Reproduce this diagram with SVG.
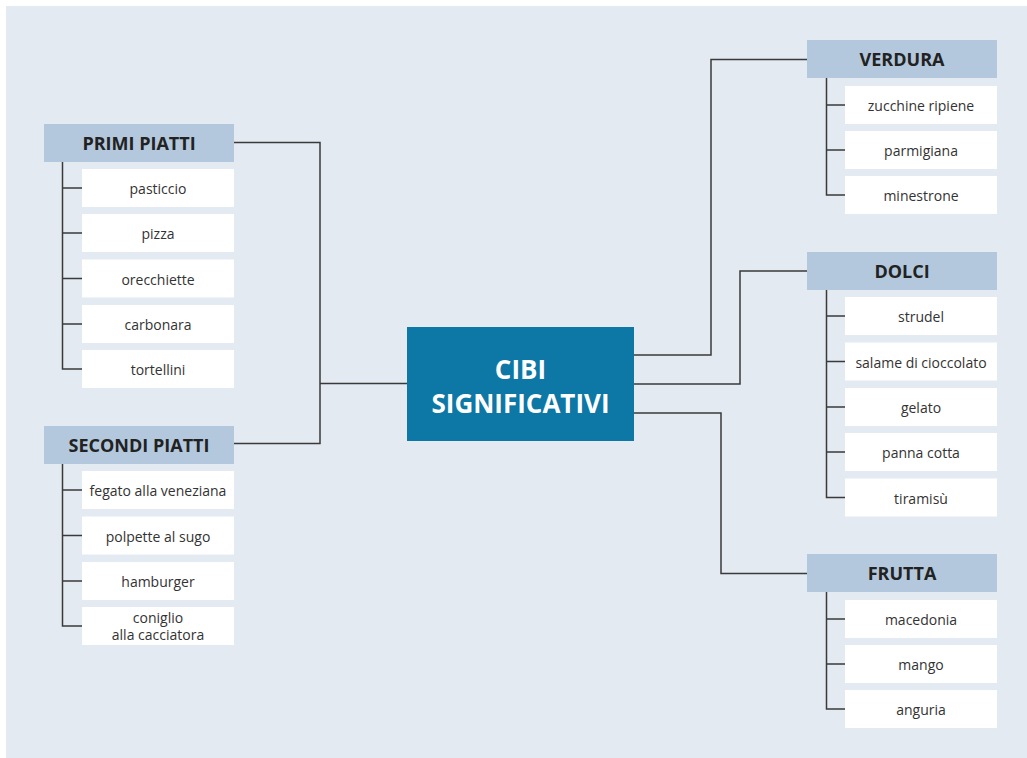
<svg xmlns="http://www.w3.org/2000/svg" width="1027" height="758" viewBox="0 0 1027 758">
<style>
.hdr{fill:#b3c8dc}
.itm{fill:#ffffff}
.ht{font-family:"Open Sans","Noto Sans","Liberation Sans",sans-serif;font-weight:700;font-size:18px;fill:#222;text-anchor:middle}
.it{font-family:"Open Sans","Noto Sans","Liberation Sans",sans-serif;font-size:14px;fill:#333;text-anchor:middle}
.ct{font-family:"Open Sans","Noto Sans","Liberation Sans",sans-serif;font-weight:700;font-size:26px;fill:#ffffff;text-anchor:middle}
.ln{fill:none;stroke:#3a3a3a;stroke-width:1.5}
</style>
<rect x="6" y="6" width="1021" height="752" fill="#e3eaf2"/>
<g id="connectors">
<path class="ln" d="M234,142.5 H320 V443.5 H234"/>
<path class="ln" d="M320,383.5 H407"/>
<path class="ln" d="M634,355 H711 V59.5 H807"/>
<path class="ln" d="M634,384 H740 V271 H807"/>
<path class="ln" d="M634,413 H721 V573.5 H807"/>
<path class="ln" d="M62.5,162 V369 H82 M62.5,188 H82 M62.5,233 H82 M62.5,278.5 H82 M62.5,324 H82"/>
<path class="ln" d="M62.5,464 V626 H82 M62.5,490 H82 M62.5,535.5 H82 M62.5,581 H82"/>
<path class="ln" d="M826.5,78 V195 H845 M826.5,105 H845 M826.5,150 H845"/>
<path class="ln" d="M826.5,290 V497.5 H845 M826.5,316 H845 M826.5,361.5 H845 M826.5,407 H845 M826.5,452 H845"/>
<path class="ln" d="M826.5,592 V709 H845 M826.5,619 H845 M826.5,664 H845"/>
</g>
<g id="center">
<rect x="407" y="327" width="227" height="114" fill="#0d77a5"/>
<text class="ct" x="520.5" y="379">CIBI</text>
<text class="ct" x="520.5" y="413">SIGNIFICATIVI</text>
</g>
<g id="primi">
<rect class="hdr" x="44" y="124" width="190" height="38"/>
<text class="ht" x="139" y="150">PRIMI PIATTI</text>
<rect class="itm" x="82" y="169" width="152" height="38"/><text class="it" x="158" y="194">pasticcio</text>
<rect class="itm" x="82" y="214" width="152" height="38"/><text class="it" x="158" y="239">pizza</text>
<rect class="itm" x="82" y="259.5" width="152" height="38"/><text class="it" x="158" y="284.5">orecchiette</text>
<rect class="itm" x="82" y="305" width="152" height="38"/><text class="it" x="158" y="330">carbonara</text>
<rect class="itm" x="82" y="350" width="152" height="38"/><text class="it" x="158" y="375">tortellini</text>
</g>
<g id="secondi">
<rect class="hdr" x="44" y="426" width="190" height="38"/>
<text class="ht" x="139" y="452">SECONDI PIATTI</text>
<rect class="itm" x="82" y="471" width="152" height="38"/><text class="it" x="158" y="496">fegato alla veneziana</text>
<rect class="itm" x="82" y="516.5" width="152" height="38"/><text class="it" x="158" y="541.5">polpette al sugo</text>
<rect class="itm" x="82" y="562" width="152" height="38"/><text class="it" x="158" y="587">hamburger</text>
<rect class="itm" x="82" y="607" width="152" height="38"/><text class="it" x="158" y="623">coniglio</text><text class="it" x="158" y="640">alla cacciatora</text>
</g>
<g id="verdura">
<rect class="hdr" x="807" y="40" width="190" height="38"/>
<text class="ht" x="902" y="66">VERDURA</text>
<rect class="itm" x="845" y="86" width="152" height="38"/><text class="it" x="921" y="111">zucchine ripiene</text>
<rect class="itm" x="845" y="131" width="152" height="38"/><text class="it" x="921" y="156">parmigiana</text>
<rect class="itm" x="845" y="176" width="152" height="38"/><text class="it" x="921" y="201">minestrone</text>
</g>
<g id="dolci">
<rect class="hdr" x="807" y="252" width="190" height="38"/>
<text class="ht" x="902" y="278">DOLCI</text>
<rect class="itm" x="845" y="297" width="152" height="38"/><text class="it" x="921" y="322">strudel</text>
<rect class="itm" x="845" y="342.5" width="152" height="38"/><text class="it" x="921" y="367.5">salame di cioccolato</text>
<rect class="itm" x="845" y="388" width="152" height="38"/><text class="it" x="921" y="413">gelato</text>
<rect class="itm" x="845" y="433" width="152" height="38"/><text class="it" x="921" y="458">panna cotta</text>
<rect class="itm" x="845" y="478.5" width="152" height="38"/><text class="it" x="921" y="503.5">tiramisù</text>
</g>
<g id="frutta">
<rect class="hdr" x="807" y="554" width="190" height="38"/>
<text class="ht" x="902" y="580">FRUTTA</text>
<rect class="itm" x="845" y="600" width="152" height="38"/><text class="it" x="921" y="625">macedonia</text>
<rect class="itm" x="845" y="645" width="152" height="38"/><text class="it" x="921" y="670">mango</text>
<rect class="itm" x="845" y="690" width="152" height="38"/><text class="it" x="921" y="715">anguria</text>
</g>
</svg>
